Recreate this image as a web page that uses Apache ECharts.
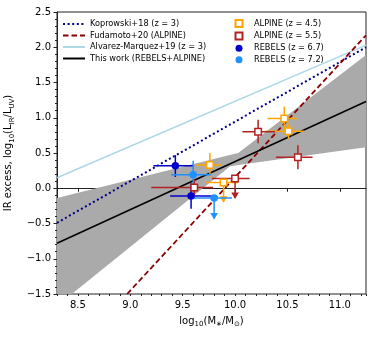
<!DOCTYPE html>
<html>
<head>
<meta charset="utf-8">
<script src="https://cdn.jsdelivr.net/npm/echarts@6/dist/echarts.min.js"></script>
<style>
  html, body { margin: 0; padding: 0; background: #fff; }
  #chart { width: 374px; height: 337px; }
</style>
</head>
<body>
<div id="chart"></div>
<script>
const FONT = 'DejaVu Sans'

// axis ticks
const xTicks = [8.5, 9.0, 9.5, 10.0, 10.5, 11.0]

// relations (two end points each)
const kopX = [8.3, 11.25]
const kopY = [-0.49, 2.0]
const fudX = [8.97, 11.25]
const fudY = [-1.5, 2.17]
const alvX = [8.3, 11.25]
const alvY = [0.15, 2.03]
const fitX = [8.3, 11.25]
const fitY = [-0.78, 1.23]

// shaded region around the fit
const bandX = [8.3, 9.95, 10.03, 11.25]
const bandLow = [-1.67, 0.31, 0.33, 0.58]
const bandHigh = [-0.14, 0.47, 0.50, 1.89]

// x, y, xLow, xHigh, yLow, yHigh, upperLimit
const alpine45 = [
    [9.76, 0.33, 9.63, 9.87, 0.16, 0.50, 0],
    [9.89, 0.08, 9.72, 10.03, -0.19, 0.08, 1],
    [10.47, 0.99, 10.31, 10.60, 0.82, 1.16, 0],
    [10.51, 0.81, 10.29, 10.66, 0.70, 0.92, 0]
]
const alpine55 = [
    [9.61, 0.01, 9.20, 9.79, -0.10, 0.12, 0],
    [10.00, 0.14, 9.78, 10.14, -0.14, 0.14, 1],
    [10.22, 0.80, 10.07, 10.38, 0.64, 0.97, 0],
    [10.60, 0.44, 10.39, 10.74, 0.27, 0.61, 0]
]
const rebels67 = [
    [9.43, 0.32, 9.22, 9.60, 0.16, 0.47, 0],
    [9.58, -0.11, 9.38, 9.78, -0.29, 0.07, 0]
]
const rebels72 = [
    [9.60, 0.19, 9.39, 9.77, 0.00, 0.39, 0],
    [9.80, -0.14, 9.60, 9.97, -0.43, -0.14, 1]
]

const fmt = v => (v < 0 ? '\u2212' : '') + Math.abs(v).toFixed(1)
const pairs = (xs, ys) => xs.map((x, i) => [x, ys[i]])

function lineSeries (name, xs, ys, color, width, type, z) {
    return {
        name, type: 'line', data: pairs(xs, ys), showSymbol: false, symbol: 'none',
        lineStyle: { color, width, type, cap: 'butt' }, itemStyle: { color },
        z, silent: true
    }
}

// error bars (with down arrows for upper limits)
function errSeries (data, color) {
    return {
        type: 'custom', data, z: 5, clip: true, silent: true,
        renderItem (params, api) {
            const x = api.value(0), y = api.value(1)
            const l = api.coord([api.value(2), y])
            const r = api.coord([api.value(3), y])
            const lo = api.coord([x, api.value(4)])
            const hi = api.coord([x, api.value(5)])
            const st = { stroke: color, lineWidth: 1.5 }
            const kids = [
                { type: 'line', shape: { x1: l[0], y1: l[1], x2: r[0], y2: r[1] }, style: st },
                { type: 'line', shape: { x1: lo[0], y1: lo[1], x2: hi[0], y2: hi[1] }, style: st }
            ]
            if (api.value(6)) {
                kids.push({
                    type: 'polygon',
                    shape: { points: [[lo[0] - 3.8, lo[1] - 5.5], [lo[0] + 3.8, lo[1] - 5.5], [lo[0], lo[1] + 1]] },
                    style: { fill: color }
                })
            }
            return { type: 'group', children: kids }
        }
    }
}

function pointSeries (name, data, color, open) {
    return {
        name, type: 'scatter', data: data.map(d => [d[0], d[1]]), z: 6, silent: true,
        symbol: open ? 'rect' : 'circle', symbolSize: open ? 6.5 : 7.5,
        itemStyle: open
            ? { color: '#fff', borderColor: color, borderWidth: 1.5, opacity: 1 }
            : { color, opacity: 1 }
    }
}

const axisCol = '#222'
const subRich = {
    a: { fontSize: 10, fontFamily: FONT, color: '#000', lineHeight: 14 },
    s: { fontSize: 7, fontFamily: FONT, color: '#000', verticalAlign: 'bottom' }
}

const option = {
    animation: false,
    backgroundColor: '#fff',
    grid: {
        left: 57, right: 8, top: 12, bottom: 43,
        show: true, borderColor: axisCol, borderWidth: 1,
        outerBoundsMode: 'none'
    },
    legend: [
        {
            left: 62, top: 19, orient: 'vertical', padding: 0,
            itemWidth: 22, itemHeight: 10, itemGap: 1.5, selectedMode: false,
            itemStyle: { color: 'rgba(0,0,0,0)', borderWidth: 0, opacity: 0 },
            data: ['Koprowski+18 (z = 3)', 'Fudamoto+20 (ALPINE)', 'Alvarez-Marquez+19 (z = 3)', 'This work (REBELS+ALPINE)'],
            textStyle: { fontSize: 8.2, fontFamily: FONT, color: '#000', lineHeight: 10 }
        },
        {
            left: 234.5, top: 19, orient: 'vertical', padding: 0,
            itemWidth: 7, itemHeight: 7, itemGap: 3.6, selectedMode: false,
            data: ['ALPINE (z = 4.5)', 'ALPINE (z = 5.5)', 'REBELS (z = 6.7)', 'REBELS (z = 7.2)'],
            textStyle: { fontSize: 8.2, fontFamily: FONT, color: '#000', padding: [0, 0, 0, 6.5] }
        }
    ],
    xAxis: [
        {
            type: 'value', min: 8.3, max: 11.25,
            axisLine: { show: true, lineStyle: { color: axisCol } },
            axisTick: { show: true, length: 3.5, customValues: xTicks, lineStyle: { color: axisCol } },
            axisLabel: { customValues: xTicks, formatter: fmt, margin: 6, fontSize: 10, fontFamily: FONT, color: '#000' },
            splitLine: { show: false },
            name: '{a|log}{s|10}{a|(M}{s|\u2217}{a|/M}{s|\u2299}{a|)}',
            nameLocation: 'middle', nameGap: 20,
            nameTextStyle: { rich: subRich }
        },
        {
            type: 'value', min: 8.3, max: 11.25, interval: 0.1, position: 'bottom',
            axisLine: { show: false },
            axisTick: { show: true, length: 2, lineStyle: { color: axisCol } },
            axisLabel: { show: false },
            splitLine: { show: false }
        }
    ],
    yAxis: {
        type: 'value', min: -1.5, max: 2.5, interval: 0.5,
        axisLine: { show: true, lineStyle: { color: axisCol } },
        axisTick: { show: true, length: 3.5, lineStyle: { color: axisCol } },
        minorTick: { show: true, splitNumber: 5, length: 2, lineStyle: { color: axisCol } },
        splitLine: { show: false },
        axisLabel: { formatter: fmt, margin: 6, fontSize: 10, fontFamily: FONT, color: '#000' },
        name: '{a|IR excess, log}{s|10}{a|(L}{s|IR}{a|/L}{s|UV}{a|)}',
        nameLocation: 'middle', nameGap: 32,
        nameTextStyle: { rich: subRich }
    },
    series: [
        {
            type: 'custom', data: [0], z: 1, clip: true, silent: true,
            renderItem (params, api) {
                const pts = bandX.map((x, i) => api.coord([x, bandHigh[i]]))
                for (let i = bandX.length - 1; i >= 0; i--) pts.push(api.coord([bandX[i], bandLow[i]]))
                return { type: 'polygon', shape: { points: pts }, style: { fill: '#aaaaaa' } }
            }
        },
        lineSeries('Koprowski+18 (z = 3)', kopX, kopY, '#00008b', 2, [2, 2.6], 3),
        lineSeries('Fudamoto+20 (ALPINE)', fudX, fudY, '#8b0000', 1.8, [5.5, 3], 3),
        lineSeries('Alvarez-Marquez+19 (z = 3)', alvX, alvY, '#add8e6', 1.6, 'solid', 2),
        lineSeries('This work (REBELS+ALPINE)', fitX, fitY, '#000', 1.5, 'solid', 3),
        errSeries(alpine45, '#ffa500'),
        errSeries(alpine55, '#b22222'),
        errSeries(rebels67, '#0000cd'),
        errSeries(rebels72, '#1e90ff'),
        pointSeries('ALPINE (z = 4.5)', alpine45, '#ffa500', true),
        pointSeries('ALPINE (z = 5.5)', alpine55, '#b22222', true),
        pointSeries('REBELS (z = 6.7)', rebels67, '#0000cd', false),
        pointSeries('REBELS (z = 7.2)', rebels72, '#1e90ff', false)
    ]
}

const myChart = echarts.init(document.getElementById('chart'))
myChart.setOption(option)
</script>
</body>
</html>
